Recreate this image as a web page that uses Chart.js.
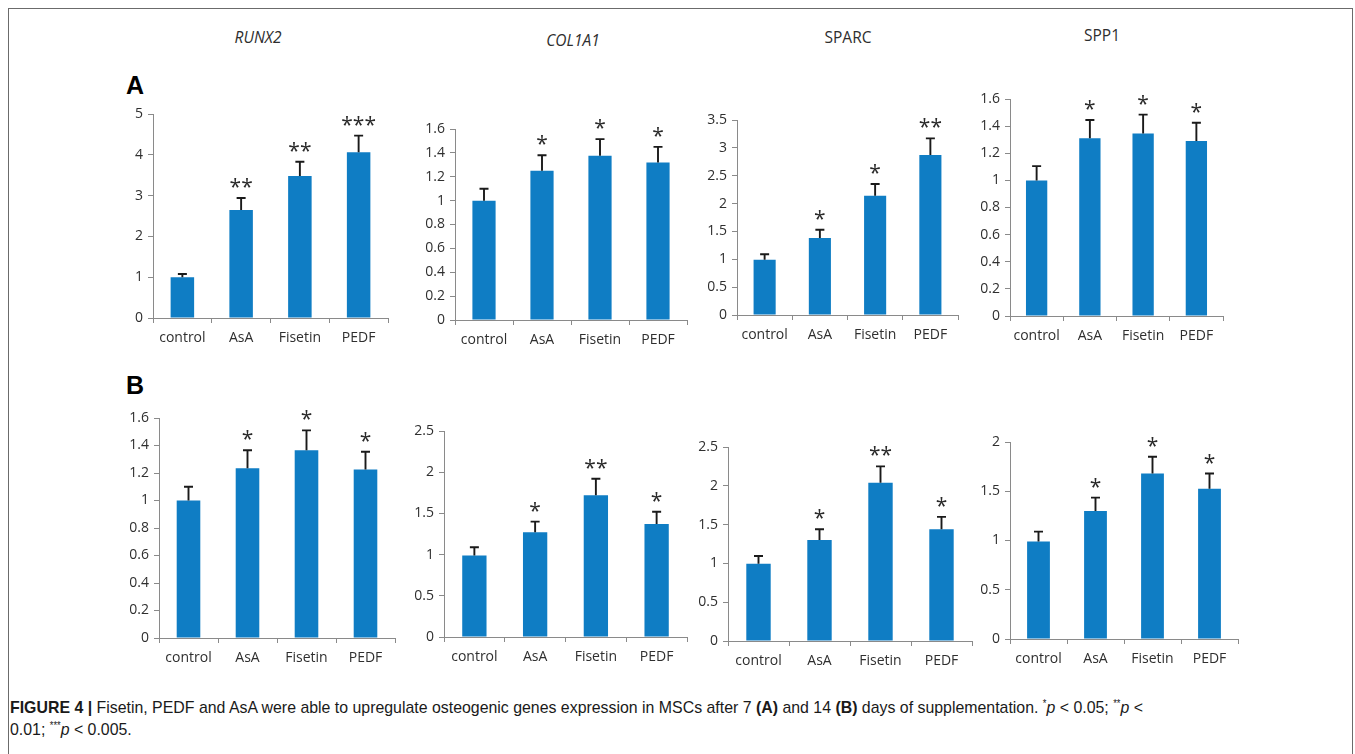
<!DOCTYPE html>
<html>
<head>
<meta charset="utf-8">
<title>Osteogenic gene expression in MSCs</title>
<script src="https://cdn.jsdelivr.net/npm/chart.js@4.4.1/dist/chart.umd.min.js"></script>
<style>
  html, body { margin: 0; padding: 0; background: #fff; }
  body { width: 1355px; height: 754px; position: relative; overflow: hidden; font-family: 'Open Sans', sans-serif; }
  .frame { position: absolute; left: 8px; top: 8px; width: 1343px; height: 800px; border: 1.5px solid #6b6b6b; border-bottom: none; }
  canvas { position: absolute; }
  .gene { position: absolute; font-size: 15.5px; color: #2e2e2e; transform: translate(-50%, -50%); white-space: nowrap; }
  .gene.it { font-style: italic; }
  .letter { position: absolute; font: bold 25px 'Liberation Sans', Arial, sans-serif; color: #000; transform: translate(-50%, -50%); }
  .caption { position: absolute; left: 10px; font-family: 'Liberation Sans', Arial, sans-serif; font-size: 17px; color: #1a1a1a; white-space: nowrap; transform-origin: 0 50%; }
  .caption sup { font-size: 10px; vertical-align: 6px; }
</style>
</head>
<body>
<div class="frame"></div>

<div class="gene it" style="left:258px;top:37px">RUNX2</div>
<div class="gene it" style="left:573px;top:40px">COL1A1</div>
<div class="gene" style="left:848px;top:37px">SPARC</div>
<div class="gene" style="left:1102px;top:35px">SPP1</div>

<div class="letter" style="left:135px;top:85px">A</div>
<div class="letter" style="left:135px;top:385px">B</div>

<div class="caption" id="cap1" style="top:698px"><b>FIGURE 4 |</b> Fisetin, PEDF and AsA were able to upregulate osteogenic genes expression in MSCs after 7 <b>(A)</b> and 14 <b>(B)</b> days of supplementation. <sup>*</sup><i>p</i> &lt; 0.05; <sup>**</sup><i>p</i> &lt;</div>
<div class="caption" id="cap2" style="top:720px">0.01; <sup>***</sup><i>p</i> &lt; 0.005.</div>

<script>
// Treatment groups on every x axis
const categories = ['control', 'AsA', 'Fisetin', 'PEDF'];

// Y-axis tick values
const ticksTo5 = [0, 1, 2, 3, 4, 5];
const ticksTo16 = [0, 0.2, 0.4, 0.6, 0.8, 1, 1.2, 1.4, 1.6];
const ticksTo35 = [0, 0.5, 1, 1.5, 2, 2.5, 3, 3.5];
const ticksTo25 = [0, 0.5, 1, 1.5, 2, 2.5];
const ticksTo2 = [0, 0.5, 1, 1.5, 2];

// Day 7 (A): relative expression, error (upper bar) and significance
const runx2Day7 = [1.0, 2.65, 3.48, 4.06];
const runx2Day7Err = [0.08, 0.29, 0.35, 0.41];
const runx2Day7Sig = ['', '**', '**', '***'];

const col1a1Day7 = [1.0, 1.25, 1.375, 1.32];
const col1a1Day7Err = [0.10, 0.13, 0.14, 0.13];
const col1a1Day7Sig = ['', '*', '*', '*'];

const sparcDay7 = [0.99, 1.38, 2.14, 2.87];
const sparcDay7Err = [0.10, 0.15, 0.21, 0.30];
const sparcDay7Sig = ['', '*', '*', '**'];

const spp1Day7 = [1.0, 1.31, 1.345, 1.29];
const spp1Day7Err = [0.105, 0.135, 0.14, 0.135];
const spp1Day7Sig = ['', '*', '*', '*'];

// Day 14 (B)
const runx2Day14 = [1.0, 1.235, 1.365, 1.225];
const runx2Day14Err = [0.10, 0.13, 0.145, 0.13];
const runx2Day14Sig = ['', '*', '*', '*'];

const col1a1Day14 = [0.99, 1.27, 1.72, 1.37];
const col1a1Day14Err = [0.10, 0.13, 0.20, 0.15];
const col1a1Day14Sig = ['', '*', '**', '*'];

const sparcDay14 = [0.995, 1.30, 2.04, 1.44];
const sparcDay14Err = [0.10, 0.14, 0.21, 0.16];
const sparcDay14Sig = ['', '*', '**', '*'];

const spp1Day14 = [0.99, 1.30, 1.68, 1.525];
const spp1Day14Err = [0.10, 0.135, 0.17, 0.155];
const spp1Day14Sig = ['', '*', '*', '*'];

// Plot-area boxes on the page: y-axis x, top tick y, x-axis end x, zero line y
const panels = [
  { box: [153, 114, 388, 318], ticks: ticksTo5,  values: runx2Day7,   err: runx2Day7Err,   sig: runx2Day7Sig },
  { box: [455, 129, 687, 320], ticks: ticksTo16, values: col1a1Day7,  err: col1a1Day7Err,  sig: col1a1Day7Sig },
  { box: [737, 120, 958, 315], ticks: ticksTo35, values: sparcDay7,   err: sparcDay7Err,   sig: sparcDay7Sig },
  { box: [1010, 99, 1223, 316], ticks: ticksTo16, values: spp1Day7,   err: spp1Day7Err,    sig: spp1Day7Sig },
  { box: [159, 418, 395, 638], ticks: ticksTo16, values: runx2Day14,  err: runx2Day14Err,  sig: runx2Day14Sig },
  { box: [444, 431, 687, 637], ticks: ticksTo25, values: col1a1Day14, err: col1a1Day14Err, sig: col1a1Day14Sig },
  { box: [728, 447, 972, 641], ticks: ticksTo25, values: sparcDay14,  err: sparcDay14Err,  sig: sparcDay14Sig },
  { box: [1010, 442, 1238, 639], ticks: ticksTo2, values: spp1Day14,  err: spp1Day14Err,   sig: spp1Day14Sig }
];

const BAR = '#0f7dc4';
const AXIS = '#8a8a8a';
const LABEL = '#2f2f2f';
const PAD_L = 50, PAD_T = 28, PAD_R = 12, PAD_B = 40;

// Upper error whiskers and significance asterisks above each bar
const whiskerPlugin = {
  id: 'whiskers',
  afterDatasetsDraw(chart, args, opts) {
    const { ctx } = chart;
    const y = chart.scales.y;
    const ds = chart.data.datasets[0];
    const meta = chart.getDatasetMeta(0);
    ctx.save();
    meta.data.forEach((bar, i) => {
      const top = y.getPixelForValue(ds.data[i] + opts.err[i]);
      ctx.strokeStyle = '#1a1a1a';
      ctx.lineWidth = 1.9;
      ctx.beginPath();
      ctx.moveTo(bar.x, bar.y);
      ctx.lineTo(bar.x, top);
      ctx.moveTo(bar.x - 4.5, top);
      ctx.lineTo(bar.x + 4.5, top);
      ctx.stroke();
      const s = opts.sig[i];
      if (s) {
        ctx.font = '21px "Open Sans"';
        ctx.fillStyle = '#2a2a2a';
        ctx.textAlign = 'center';
        ctx.textBaseline = 'alphabetic';
        const m = ctx.measureText('*');
        const centre = top - 15;
        const base = centre + (m.actualBoundingBoxAscent - m.actualBoundingBoxDescent) / 2;
        ctx.fillText(s, bar.x, base);
      }
    });
    ctx.restore();
  }
};

function trimNum(v) {
  return String(+Number(v).toFixed(2));
}

panels.forEach(p => {
  const [ax, top, right, zero] = p.box;
  const w = (right - ax) + PAD_L + PAD_R;
  const h = (zero - top) + PAD_T + PAD_B;
  const cv = document.createElement('canvas');
  cv.width = w; cv.height = h;
  cv.style.left = (ax - PAD_L) + 'px';
  cv.style.top = (top - PAD_T) + 'px';
  cv.style.width = w + 'px';
  cv.style.height = h + 'px';
  document.body.appendChild(cv);

  new Chart(cv, {
    type: 'bar',
    data: {
      labels: categories,
      datasets: [{
        data: p.values,
        backgroundColor: BAR,
        borderWidth: 0,
        categoryPercentage: 1,
        barPercentage: 0.4
      }]
    },
    options: {
      responsive: false,
      animation: false,
      events: [],
      layout: { padding: { left: 0, top: PAD_T, right: PAD_R, bottom: 0 } },
      plugins: {
        legend: { display: false },
        tooltip: { enabled: false },
        whiskers: { err: p.err, sig: p.sig }
      },
      scales: {
        x: {
          grid: { display: true, drawOnChartArea: false, drawTicks: true, tickLength: 5, color: AXIS, lineWidth: 1, offset: true },
          border: { display: true, color: AXIS, width: 1 },
          ticks: { color: LABEL, font: { family: 'Open Sans', size: 14 }, padding: 7, maxRotation: 0 },
          afterFit: s => { s.height = PAD_B; }
        },
        y: {
          min: p.ticks[0],
          max: p.ticks[p.ticks.length - 1],
          afterBuildTicks: s => { s.ticks = p.ticks.map(v => ({ value: v })); },
          grid: { display: true, drawOnChartArea: false, drawTicks: true, tickLength: 5, color: AXIS, lineWidth: 1 },
          border: { display: true, color: AXIS, width: 1 },
          ticks: { color: LABEL, font: { family: 'Open Sans', size: 14 }, padding: 5, callback: v => trimNum(v) },
          afterFit: s => { s.width = PAD_L; }
        }
      }
    },
    plugins: [whiskerPlugin]
  });
});

// Fit the caption's first line between the frame edges
(function fitCaption() {
  const c1 = document.getElementById('cap1');
  const c2 = document.getElementById('cap2');
  const k = 1133 / c1.getBoundingClientRect().width;
  c1.style.transform = 'scaleX(' + k + ')';
  c2.style.transform = 'scaleX(' + k + ')';
})();
</script>
</body>
</html>
